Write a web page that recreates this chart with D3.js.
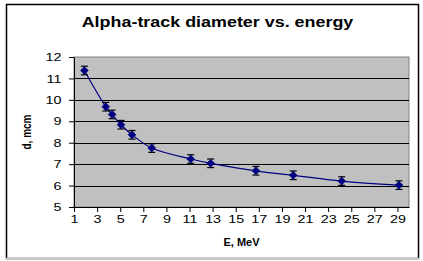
<!DOCTYPE html>
<html>
<head>
<meta charset="utf-8">
<script src="https://cdn.jsdelivr.net/npm/d3@7"></script>
<style>
html,body{margin:0;padding:0;background:#fff;}
svg{display:block;}
text{font-family:"Liberation Sans",Arial,sans-serif;}
</style>
</head>
<body>
<svg id="chart" width="423" height="261"></svg>
<script>
const energy = [1.9, 3.75, 4.3, 5.07, 6.02, 7.73, 11.1, 12.83, 16.75, 19.98, 24.17, 29.13];
const diameter = [11.37, 9.68, 9.32, 8.84, 8.37, 7.75, 7.24, 7.04, 6.69, 6.48, 6.21, 6.02];
const errors = [0.2, 0.2, 0.2, 0.2, 0.2, 0.2, 0.2, 0.2, 0.2, 0.2, 0.2, 0.2];
const xTicks = [1, 3, 5, 7, 9, 11, 13, 15, 17, 19, 21, 23, 25, 27, 29];
const yTicks = [5, 6, 7, 8, 9, 10, 11, 12];
const title = "Alpha-track diameter vs. energy";
const xTitle = "E, MeV";
const yTitle = "d, mcm";

const svg = d3.select("#chart");
const plot = {left: 74, right: 409, top: 57, bottom: 207};
const stretch = 1.25;

// outer frame
svg.append("rect").attr("x", 6.5).attr("y", 4.5).attr("width", 412).attr("height", 254)
  .attr("fill", "#fff").attr("stroke", "#000").attr("stroke-width", 1.5);
svg.append("line").attr("x1", 6).attr("x2", 420).attr("y1", 258.5).attr("y2", 258.5)
  .attr("stroke", "#d0d0d0").attr("stroke-width", 1.5);

const x = d3.scaleLinear().domain([1, 30]).range([plot.left, plot.right]);
const y = d3.scaleLinear().domain([5, 12]).range([plot.bottom, plot.top]);

// plot area
svg.append("rect").attr("x", plot.left).attr("y", plot.top)
  .attr("width", plot.right - plot.left).attr("height", plot.bottom - plot.top)
  .attr("fill", "#c0c0c0").attr("stroke", "#808080").attr("stroke-width", 1);

// gridlines
svg.append("g").selectAll("line").data(yTicks.filter(v => v > 5 && v < 12)).join("line")
  .attr("x1", plot.left).attr("x2", plot.right)
  .attr("y1", d => Math.round(y(d)) + 0.5).attr("y2", d => Math.round(y(d)) + 0.5)
  .attr("stroke", "#000").attr("stroke-width", 1);

// axes
const fmt = d3.format("d");
const xAxis = d3.axisBottom(x).tickValues(xTicks).tickFormat(fmt).tickSize(5).tickSizeOuter(0).tickPadding(3);
const yAxis = d3.axisLeft(y).tickValues(yTicks).tickFormat(fmt).tickSize(5).tickSizeOuter(0).tickPadding(5);
const gx = svg.append("g").attr("transform", `translate(0,${plot.bottom})`).call(xAxis);
const gy = svg.append("g").attr("transform", `translate(${plot.left},0)`).call(yAxis);
[gx, gy].forEach(g => {
  g.select(".domain").attr("stroke", "#000");
  g.selectAll(".tick line").attr("stroke", "#000");
  g.selectAll(".tick text").attr("font-size", 11.5).attr("fill", "#000")
    .attr("font-family", '"Liberation Sans",Arial,sans-serif')
    .attr("transform", `scale(${stretch},1)`);
});

// curve
const pts = energy.map((e, i) => [x(e), y(diameter[i])]);
svg.append("path").attr("d", d3.line().curve(d3.curveCatmullRom.alpha(0.5))(pts))
  .attr("fill", "none").attr("stroke", "#000080").attr("stroke-width", 1.2);

// error bars
const eb = svg.append("g").attr("stroke", "#000").attr("stroke-width", 1.2);
energy.forEach((e, i) => {
  const cx = x(e), y1 = y(diameter[i] + errors[i]), y2 = y(diameter[i] - errors[i]);
  eb.append("line").attr("x1", cx).attr("x2", cx).attr("y1", y1).attr("y2", y2);
  eb.append("line").attr("x1", cx - 3.5).attr("x2", cx + 3.5).attr("y1", y1).attr("y2", y1);
  eb.append("line").attr("x1", cx - 3.5).attr("x2", cx + 3.5).attr("y1", y2).attr("y2", y2);
});

// markers
svg.append("g").selectAll("path").data(pts).join("path")
  .attr("transform", d => `translate(${d[0]},${d[1]})`)
  .attr("d", "M0,-4L4,0L0,4L-4,0Z")
  .attr("fill", "#000080").attr("stroke", "#000080").attr("stroke-width", 0.5);

// titles
svg.append("text").attr("transform", `translate(217.5,27) scale(1.28,1)`).attr("text-anchor", "middle")
  .attr("font-size", 14).attr("font-weight", "bold").text(title);
svg.append("text").attr("transform", `translate(${(plot.left + plot.right) / 2},246)`).attr("text-anchor", "middle")
  .attr("font-size", 11).attr("font-weight", "bold").text(xTitle);
svg.append("text").attr("transform", `translate(31,${(plot.top + plot.bottom) / 2}) scale(1.25,1) rotate(-90)`)
  .attr("text-anchor", "middle").attr("font-size", 10).attr("font-weight", "bold").text(yTitle);
</script>
</body>
</html>
